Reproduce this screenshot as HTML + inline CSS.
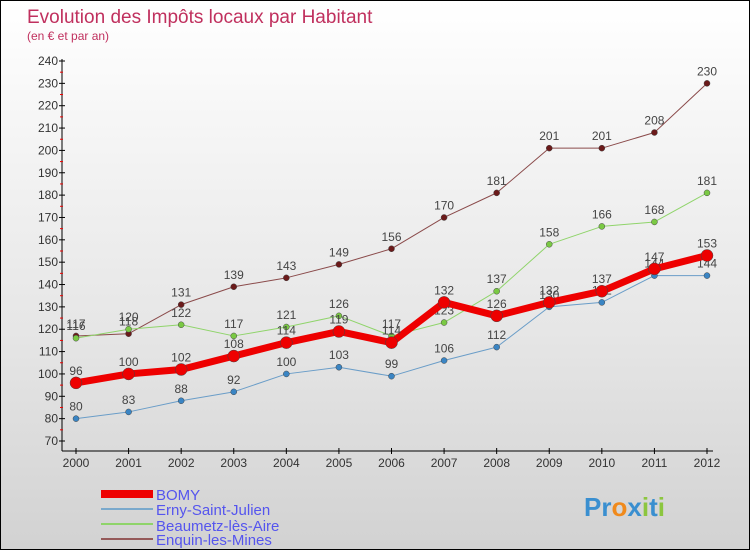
<!DOCTYPE html>
<html><head><meta charset="utf-8"><style>
body{margin:0;}
#wrap{width:748px;height:548px;border:1px solid #000;position:relative;background:linear-gradient(#ffffff,#e6e6e6 60%,#d2d2d2);overflow:hidden;font-family:"Liberation Sans",sans-serif;}
</style></head><body>
<div id="wrap">
<svg id="chart" width="748" height="548" xmlns="http://www.w3.org/2000/svg">
<text x="26" y="22" font-size="19" fill="#c0305e">Evolution des Impôts locaux par Habitant</text>
<text x="26" y="39" font-size="12" fill="#c0305e">(en € et par an)</text>
<g id="axes"></g><g id="series"></g>
<g font-size="15" fill="#5555ee">
<rect x="100" y="489" width="52" height="8" fill="#ee0000"/>
<text x="155" y="499">BOMY</text>
<rect x="100" y="507" width="52" height="2" fill="#7aa9cc"/>
<text x="155" y="514">Erny-Saint-Julien</text>
<rect x="100" y="522" width="52" height="2" fill="#8fd46a"/>
<text x="155" y="530">Beaumetz-lès-Aire</text>
<rect x="100" y="537" width="52" height="2" fill="#955a5a"/>
<text x="155" y="544">Enquin-les-Mines</text>
</g>
<g font-size="26" font-weight="bold">
<text x="583" y="515"><tspan fill="#3a8fd0">Pr</tspan><tspan fill="#f08a1c">o</tspan><tspan fill="#3a8fd0">x</tspan><tspan fill="#8cc63f">i</tspan><tspan fill="#3a8fd0">t</tspan><tspan fill="#8cc63f">i</tspan></text>
</g>
</svg>
</div>
<script>
const years=[2000,2001,2002,2003,2004,2005,2006,2007,2008,2009,2010,2011,2012];
const yTicks=[70,80,90,100,110,120,130,140,150,160,170,180,190,200,210,220,230,240];
const bomy=[96,100,102,108,114,119,114,132,126,132,137,147,153];
const erny=[80,83,88,92,100,103,99,106,112,130,132,144,144];
const beaumetz=[116,120,122,117,121,126,117,123,137,158,166,168,181];
const enquin=[117,118,131,139,143,149,156,170,181,201,201,208,230];
const NS="http://www.w3.org/2000/svg";
function xs(i){return 75+i*(706-75)/(years.length-1);}
function ys(v){return 440-(v-70)*(380/170);}
function mk(tag,attrs,parent){const e=document.createElementNS(NS,tag);for(const k in attrs)e.setAttribute(k,attrs[k]);parent.appendChild(e);return e;}
const ax=document.getElementById('axes');
let l=mk('line',{x1:61,y1:58,x2:61,y2:450,stroke:'#000'},ax);


l=mk('line',{x1:61,y1:450,x2:712,y2:450,stroke:'#000'},ax);


yTicks.forEach(v=>{const y=ys(v);
mk('line',{x1:58,y1:y,x2:64,y2:y,stroke:'#000'},ax);
if(v<240)mk('line',{x1:59,y1:y-380/34,x2:62,y2:y-380/34,stroke:'#e00'},ax);
const t=mk('text',{x:57,y:y+4,'text-anchor':'end','font-size':12,fill:'#333'},ax);t.textContent=v;

});
years.forEach((yr,i)=>{const x=xs(i);
mk('line',{x1:x,y1:447,x2:x,y2:453,stroke:'#000'},ax);
const t=mk('text',{x:x,y:466,'text-anchor':'middle','font-size':12,fill:'#333'},ax);t.textContent=yr;

});
const sg=document.getElementById('series');
function draw(name,data,color,w,r,dot){
const g=mk('g',{},sg);


const p=mk('polyline',{points:data.map((v,i)=>xs(i)+','+ys(v)).join(' '),fill:'none',stroke:color,'stroke-width':w,'stroke-linejoin':'round'},g);


data.forEach((v,i)=>{const c=mk('circle',{cx:xs(i),cy:ys(v),r:r,fill:dot,stroke:'#444','stroke-width':0.5},g);


const t=mk('text',{x:xs(i),y:ys(v)-8,'text-anchor':'middle','font-size':12,fill:'#444'},g);t.textContent=v;

});}
draw('enquin',enquin,'#8a4a4a',1,3,'#6b1a1a');
draw('beaumetz',beaumetz,'#8fd46a',1,3,'#7ac943');
draw('erny',erny,'#6a9dc8',1,3,'#3a85c4');
draw('bomy',bomy,'#ee0000',7,6,'#ee0000');
</script>
</body></html>
